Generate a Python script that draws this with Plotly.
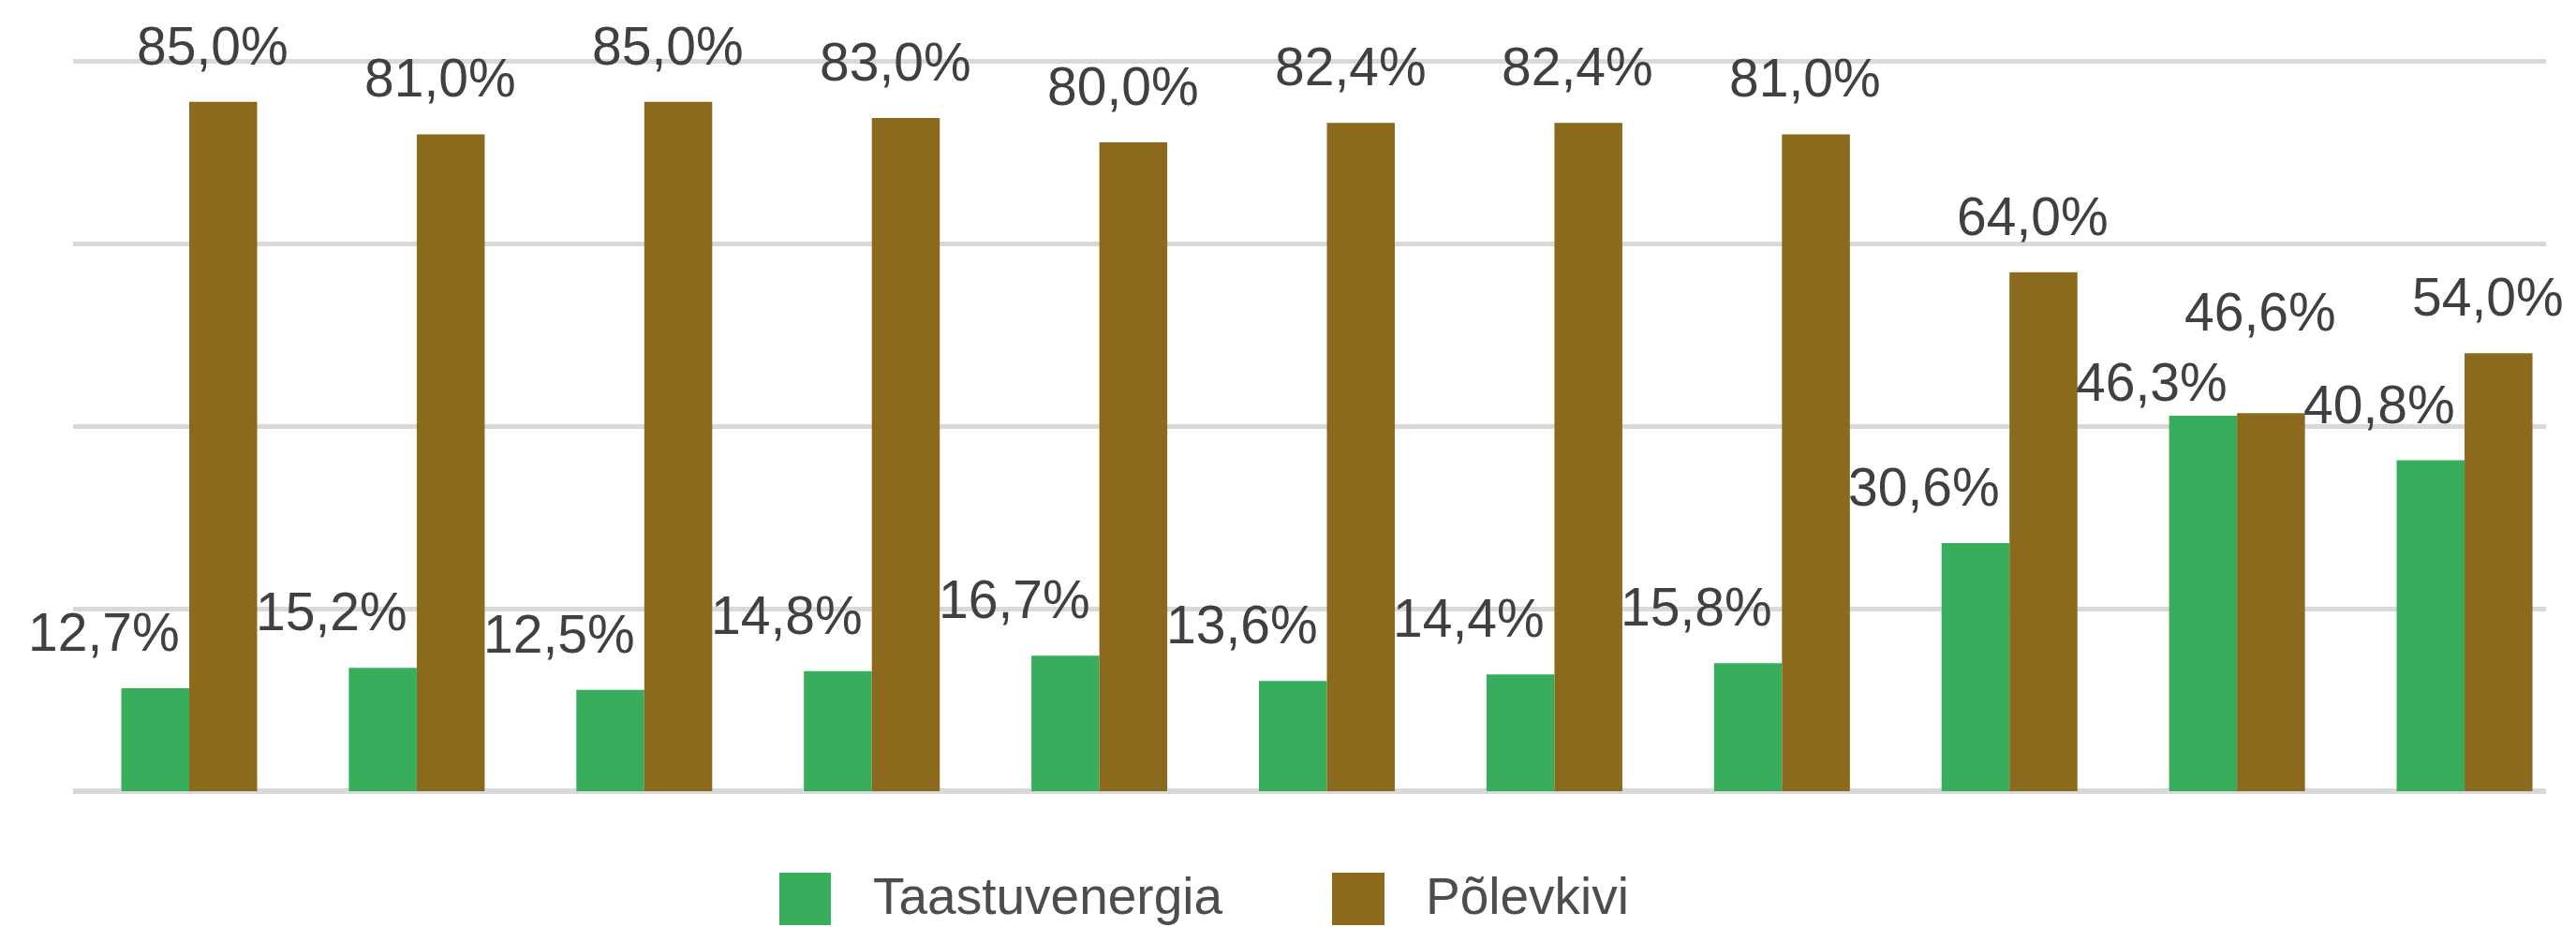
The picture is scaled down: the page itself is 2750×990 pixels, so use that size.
import plotly.graph_objects as go

# ---- data ----
categories = ["A", "B", "C", "D", "E", "F", "G", "H", "I", "J", "K"]
series_names = ["Taastuvenergia", "Põlevkivi"]
renewable = [12.7, 15.2, 12.5, 14.8, 16.7, 13.6, 14.4, 15.8, 30.6, 46.3, 40.8]
oil_shale = [85.0, 81.0, 85.0, 83.0, 80.0, 82.4, 82.4, 81.0, 64.0, 46.6, 54.0]

# ---- styling ----
GREEN = "#38ad5c"
BROWN = "#8b6a1d"
TEXT = "#404040"
GRID = "#d9d9d9"
FONT = "Liberation Sans, Arial, sans-serif"

W, H = 2750, 990
ML, MR, MT, MB = 78, 32, 10, 145
LABEL_SHIFT = 26


def fmt(v):
    return f"{v:.1f}%".replace(".", ",")


fig = go.Figure()
fig.add_trace(go.Bar(x=categories, y=renewable, name=series_names[0],
                     marker=dict(color=GREEN, line=dict(width=0)),
                     showlegend=False, hoverinfo="skip"))
fig.add_trace(go.Bar(x=categories, y=oil_shale, name=series_names[1],
                     marker=dict(color=BROWN, line=dict(width=0)),
                     showlegend=False, hoverinfo="skip"))

annotations = []
for i, (g, b) in enumerate(zip(renewable, oil_shale)):
    # when both labels would sit at the same height, stagger them
    close = abs(g - b) < 5
    g_shift = LABEL_SHIFT - (24 if close else 0)
    b_shift = LABEL_SHIFT + (48 if close else 0)
    annotations.append(dict(x=i, y=g, xref="x", yref="y", text=fmt(g),
                            showarrow=False, xshift=-91, yshift=g_shift,
                            yanchor="bottom", xanchor="center",
                            font=dict(size=57, color=TEXT, family=FONT)))
    annotations.append(dict(x=i, y=b, xref="x", yref="y", text=fmt(b),
                            showarrow=False, xshift=25, yshift=b_shift,
                            yanchor="bottom", xanchor="center",
                            font=dict(size=57, color=TEXT, family=FONT)))

# ---- manual legend (large swatches as in the reference) ----
pw = W - ML - MR
ph = H - MT - MB


def px_x(px):
    return (px - ML) / pw


def px_y(py):
    return (H - MB - py) / ph


shapes = []
legend_items = [(series_names[0], GREEN, 832, 887, 930),
                (series_names[1], BROWN, 1422, 1478, 1520)]
for name, col, x0, x1, tx in legend_items:
    shapes.append(dict(type="rect", xref="paper", yref="paper",
                       x0=px_x(x0), x1=px_x(x1), y0=px_y(988), y1=px_y(932),
                       fillcolor=col, line=dict(width=0)))
    annotations.append(dict(x=px_x(tx), y=px_y(957), xref="paper", yref="paper",
                            text=name, showarrow=False, xanchor="left",
                            yanchor="middle",
                            font=dict(size=55, color="#4d4d4d", family=FONT)))

fig.update_layout(
    width=W, height=H,
    margin=dict(l=ML, r=MR, t=MT, b=MB, pad=0),
    paper_bgcolor="white", plot_bgcolor="white",
    barmode="group", bargap=0.403, bargroupgap=0,
    showlegend=False,
    annotations=annotations, shapes=shapes,
    xaxis=dict(type="category", range=[-0.5105, 10.358], showgrid=False,
               showticklabels=False, ticks="", zeroline=False, showline=False),
    yaxis=dict(range=[0, 96.4], tick0=0, dtick=22.5, showticklabels=False,
               ticks="", showgrid=True, gridcolor=GRID, gridwidth=5,
               zeroline=True, zerolinecolor=GRID, zerolinewidth=6,
               showline=False),
)

fig.write_html("out.html", config={"displayModeBar": False},
               post_script="document.body.style.margin='0';document.body.style.overflow='hidden';")
